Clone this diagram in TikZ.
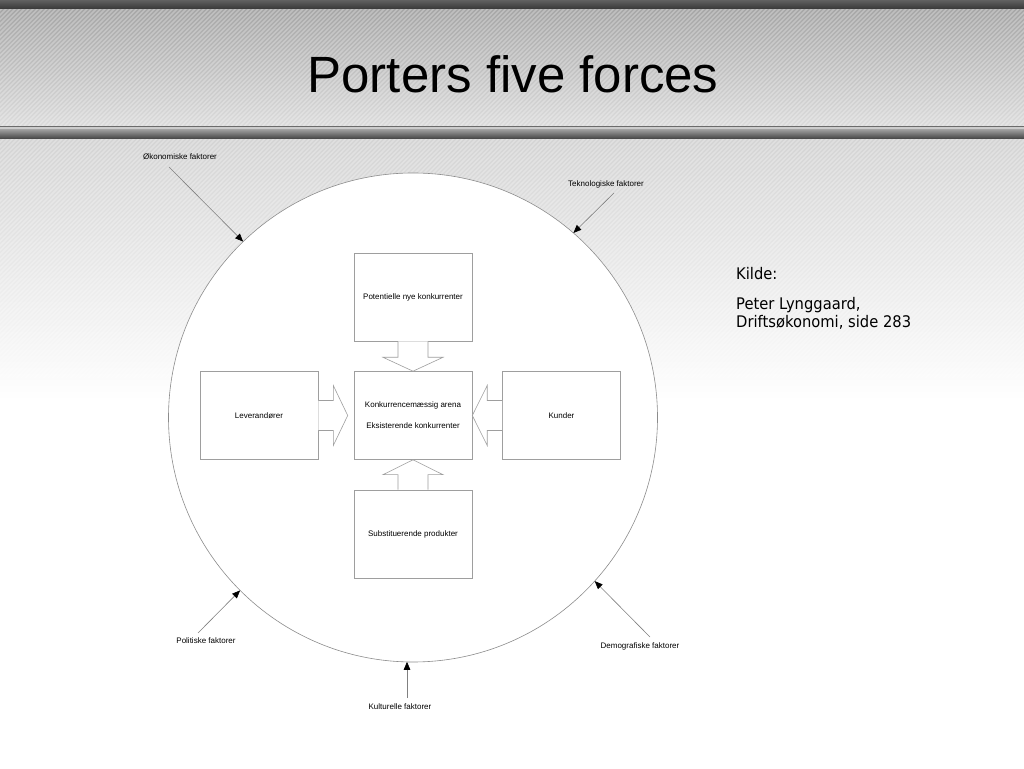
\documentclass[tikz,border=0pt]{standalone}
\usepackage{fontspec}
\setmainfont{Liberation Sans}
\newfontfamily\kildefont[FakeStretch=0.92]{DejaVu Sans}
\usetikzlibrary{calc,arrows.meta}
\begin{document}
\begin{tikzpicture}[x=1pt,y=1pt,
  fbox/.style={draw=black!38,fill=white,line width=0.6pt,minimum width=118pt,minimum height=88pt,inner sep=0pt,font=\fontsize{8}{10}\selectfont,align=center},
  barrow/.style={draw=black!38,fill=white,line width=0.6pt,line join=miter},
  lbl/.style={font=\fontsize{8}{10}\selectfont,inner sep=0pt},
  farrow/.style={draw=black!50,line width=0.6pt,-{Triangle[length=8pt,width=6.5pt,color=black]}},
  stripe/.style={white,opacity=0.28,line width=1.5pt}
]
\useasboundingbox (0,0) rectangle (1024,768);
% background
\fill[white] (0,0) rectangle (1024,768);
\shade[top color=black!62,bottom color=black!80] (0,758) rectangle (1024,768);
\shade[top color=black!35,bottom color=black!14] (0,642) rectangle (1024,758);
\fill[black!58] (0,640.5) rectangle (1024,642);
\fill[black!20] (0,638) rectangle (1024,640.5);
\shade[top color=black!40,bottom color=black!78] (0,628) rectangle (1024,638);
\shade[top color=black!17,bottom color=white] (0,368) rectangle (1024,628);
\begin{scope}
  \clip (0,642) rectangle (1024,758);
  \foreach \i in {0,...,256} \draw[stripe] ({\i*4.5-120},642) -- ++(118,118);
\end{scope}
\begin{scope}
  \clip (0,390) rectangle (1024,628);
  \foreach \i in {0,...,285} \draw[stripe] ({\i*4.5-240},390) -- ++(240,240);
\end{scope}
% title
\node[anchor=base,inner sep=0pt,font=\fontsize{51}{60}\selectfont] (title) at (513,675) {Porters five forces};
% circle
\node[circle,draw=black!45,fill=white,line width=0.6pt,minimum size=489pt,inner sep=0pt,outer sep=0pt] (ring) at (413,350.5) {};
% boxes
\node[fbox] (top) at (413,471) {Potentielle nye konkurrenter};
\node[fbox,font=\fontsize{8}{21}\selectfont] (cen) at (413,352.5) {Konkurrencemæssig arena\\Eksisterende konkurrenter};
\node[fbox] (lev) at (259,352.5) {Leverandører};
\node[fbox] (kun) at (561.5,352.5) {Kunder};
\node[fbox] (bot) at (413,234) {Substituerende produkter};
% block arrows
\draw[barrow] ($(top.south)+(-15,0)$) -- ++(0,-16) -- ++(-15,0) -- (cen.north) -- ($(top.south)+(30,-16)$) -- ++(-15,0) -- ++(0,16);
\draw[barrow] ($(bot.north)+(-15,0)$) -- ++(0,15) -- ++(-15,0) -- (cen.south) -- ($(bot.north)+(30,15)$) -- ++(-15,0) -- ++(0,-15);
\draw[barrow] ($(lev.east)+(0,15)$) -- ++(15,0) -- ++(0,15) -- ($(cen.west)+(-6,0)$) -- ($(lev.east)+(15,-30)$) -- ++(0,15) -- ++(-15,0);
\draw[barrow] ($(kun.west)+(0,15)$) -- ++(-15,0) -- ++(0,15) -- (cen.east) -- ($(kun.west)+(-15,-30)$) -- ++(0,15) -- ++(15,0);
% factor labels
\node[lbl] (oko) at (180,611) {Økonomiske faktorer};
\node[lbl] (tek) at (606,584) {Teknologiske faktorer};
\node[lbl] (pol) at (206,127) {Politiske faktorer};
\node[lbl] (dem) at (640,122) {Demografiske faktorer};
\node[lbl] (kul) at (400,61) {Kulturelle faktorer};
\coordinate (okos) at (169,601);
\coordinate (teks) at (614,575);
\coordinate (pols) at (198,135);
\coordinate (dems) at (650,131);
\coordinate (kuls) at (407,70);
\coordinate (kult) at (407,106.2);
\draw[farrow] (okos) -- (ring.134);
\draw[farrow] (teks) -- (ring.49);
\draw[farrow] (pols) -- (ring.225);
\draw[farrow] (dems) -- (ring.318);
\draw[farrow] (kuls) -- (kult);
% source
\node[anchor=base west,inner sep=0pt,font=\kildefont\fontsize{16}{19}\selectfont] (k1) at (736,488) {Kilde:};
\node[anchor=base west,inner sep=0pt,font=\kildefont\fontsize{16}{19}\selectfont] (k2) at (736,458) {Peter Lynggaard,};
\node[anchor=base west,inner sep=0pt,font=\kildefont\fontsize{16}{19}\selectfont] (k3) at (736,440) {Driftsøkonomi, side 283};
\end{tikzpicture}
\end{document}
